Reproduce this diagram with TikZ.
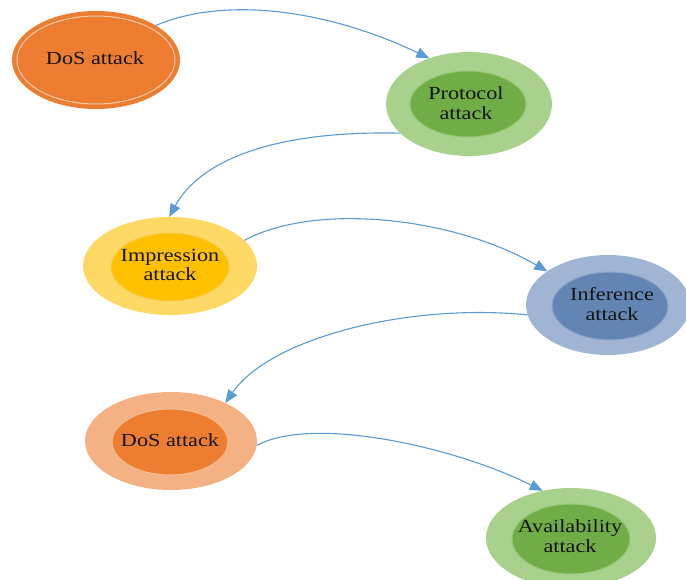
\documentclass[tikz,border=0pt]{standalone}
\usepackage{fontspec}
\setmainfont{Liberation Serif}
\usetikzlibrary{shapes.geometric,arrows.meta}
\definecolor{arrowblue}{RGB}{91,155,213}
\definecolor{txt}{RGB}{20,20,20}
\definecolor{dosorange}{RGB}{237,125,49}
\definecolor{dosring}{RGB}{246,200,170}
\definecolor{peach}{RGB}{244,177,131}
\definecolor{peachline}{RGB}{246,190,150}
\definecolor{lgreen}{RGB}{169,209,142}
\definecolor{dgreen}{RGB}{112,173,71}
\definecolor{greenline}{RGB}{150,200,120}
\definecolor{lyellow}{RGB}{255,217,102}
\definecolor{gold}{RGB}{255,192,0}
\definecolor{goldline}{RGB}{250,205,80}
\definecolor{lblue}{RGB}{160,181,212}
\definecolor{dblue}{RGB}{98,133,180}
\definecolor{blueline}{RGB}{140,165,200}
\begin{document}
\begin{tikzpicture}[x=1pt,y=-1pt,
  outer/.style={ellipse, inner sep=0pt, outer sep=0pt, draw=none},
  innerell/.style={ellipse, inner sep=0pt, outer sep=0pt, line width=1pt},
  lbl/.style={align=center, text=txt, font=\fontsize{18.5}{19.5}\selectfont, xscale=1.2, transform shape, inner sep=0pt},
  conn/.style={draw=arrowblue, line width=1.1pt, -{Triangle[length=13pt,width=10.5pt]}}]
\useasboundingbox (0,0) rectangle (686,580);

% nodes
\node[outer, fill=dosorange, minimum width=168pt, minimum height=98pt] (d1) at (96,60) {};
\node[innerell, draw=dosring, minimum width=158pt, minimum height=88pt] (d1r) at (96,60) {};
\node[lbl] (d1t) at (95,58) {DoS attack};

\node[outer, fill=lgreen, minimum width=166pt, minimum height=104pt] (p) at (469,104) {};
\node[innerell, fill=dgreen, draw=greenline, minimum width=116pt, minimum height=66pt] (pi) at (468,104) {};
\node[lbl] (pt) at (466,103) {Protocol\\attack};

\node[outer, fill=lyellow, minimum width=174pt, minimum height=98pt] (i) at (170,266) {};
\node[innerell, fill=gold, draw=goldline, minimum width=118pt, minimum height=68pt] (ii) at (170,267) {};
\node[lbl] (it) at (170,265) {Impression\\attack};

\node[outer, fill=lblue, minimum width=164pt, minimum height=100pt] (f) at (608,305) {};
\node[innerell, fill=dblue, draw=blueline, minimum width=116pt, minimum height=68pt] (fi) at (610,306) {};
\node[lbl] (ft) at (612,304) {Inference\\attack};

\node[outer, fill=peach, minimum width=172pt, minimum height=98pt] (d2) at (171,441) {};
\node[innerell, fill=dosorange, draw=peachline, minimum width=116pt, minimum height=66pt] (d2i) at (170,442) {};
\node[lbl] (d2t) at (170,440) {DoS attack};

\node[outer, fill=lgreen, minimum width=170pt, minimum height=100pt] (a) at (571,538) {};
\node[innerell, fill=dgreen, draw=greenline, minimum width=118pt, minimum height=70pt] (ai) at (571,539) {};
\node[lbl] (at) at (570,536) {Availability\\attack};

% connectors
\draw[conn] (d1.30) .. controls +(70,-30) and +(-100,-48) .. (p.131);
\draw[conn] (p.203) .. controls +(-130,-3) and +(30,-55) .. (i.91);
\draw[conn] (i.19) .. controls +(70,-38) and +(-95,-55) .. (f.151);
\draw[conn] (f.187) .. controls +(-120,-12) and +(45,-65) .. (d2.35);
\draw[conn] (d2.-3) .. controls +(55,-30) and +(-90,-45) .. (a.121);
\end{tikzpicture}
\end{document}
